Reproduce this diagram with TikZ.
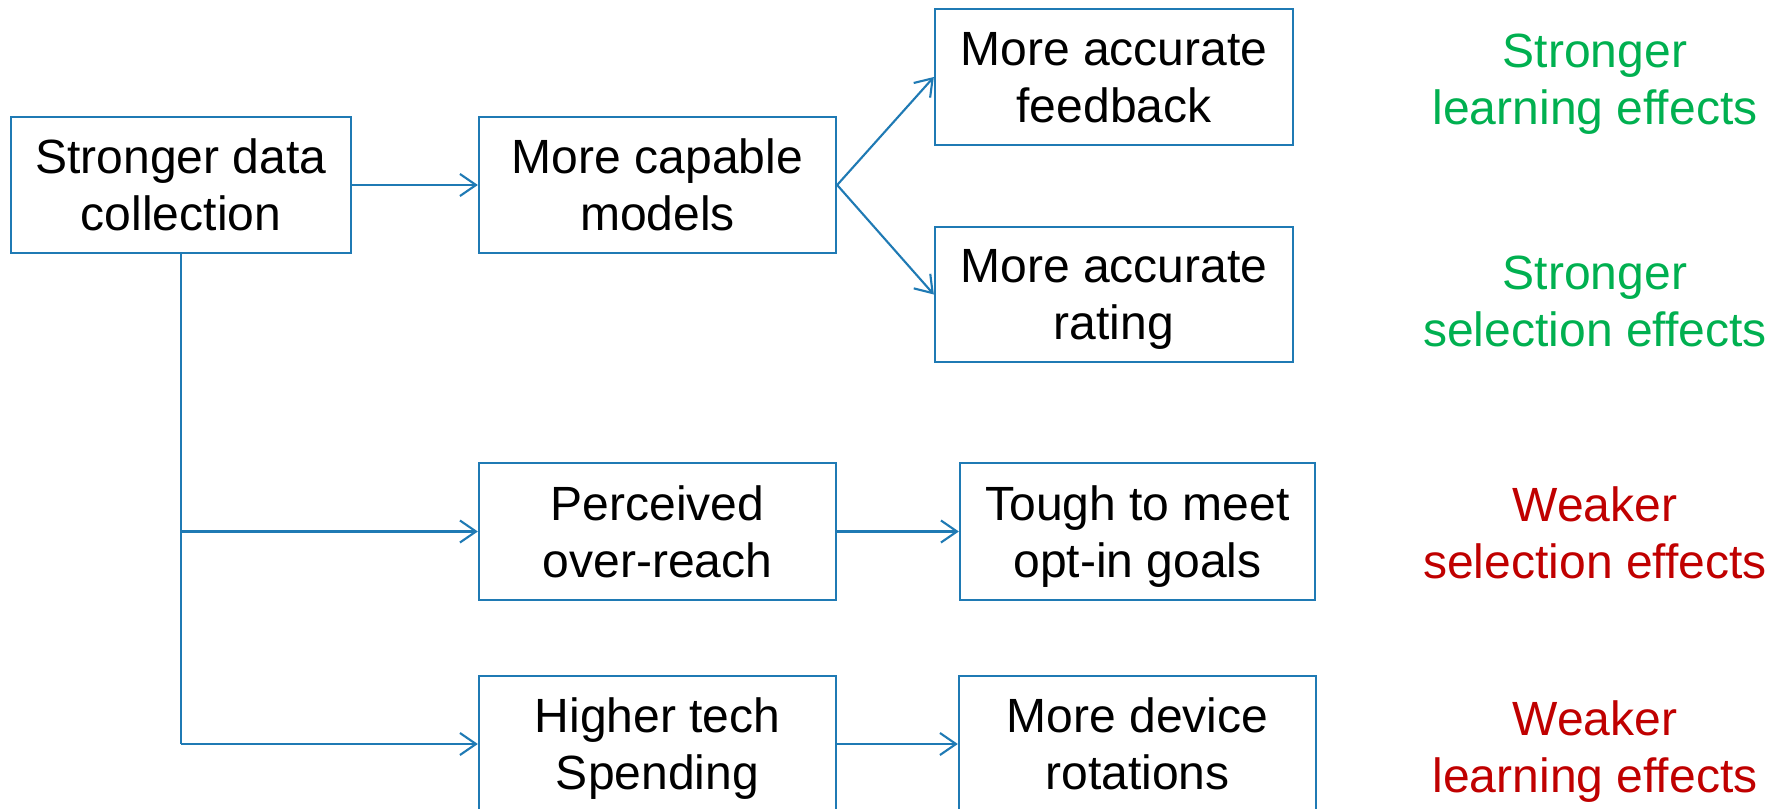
\documentclass[tikz,border=0pt]{standalone}
\usepackage{fontspec}
\setmainfont{Liberation Sans}
\usetikzlibrary{arrows.meta}
\definecolor{lineblue}{RGB}{31,122,180}
\definecolor{posgreen}{RGB}{0,176,80}
\definecolor{negred}{RGB}{192,0,0}
\tikzset{
  box/.style={draw=lineblue, line width=0.6pt, align=center, inner sep=0pt,
    minimum height=1.36cm, text=black, text depth=-0.3pt, font=\fontsize{13.66}{16.2}\selectfont},
  effect/.style={align=center, inner sep=0pt, text depth=-0.3pt, font=\fontsize{13.66}{16.2}\selectfont},
  conn/.style={draw=lineblue, line width=0.6pt},
  arr/.style={conn, -{Straight Barb[length=0.16cm,width=0.22cm,line width=0.6pt]}}
}
\begin{document}
\begin{tikzpicture}[x=0.01cm,y=-0.01cm]
\useasboundingbox (0,0) rectangle (1781,809);
\clip (0,0) rectangle (1781,809);
\fill[white] (0,0) rectangle (1781,809);
\node[box, minimum width=3.40cm] (b1) at (181,185) {Stronger data\\collection};
\node[box, minimum width=3.57cm] (b2) at (657.5,185) {More capable\\models};
\node[box, minimum width=3.58cm] (b3) at (1114,77) {More accurate\\feedback};
\node[box, minimum width=3.58cm, minimum height=1.35cm] (b4) at (1114,294.5) {More accurate\\rating};
\node[box, minimum width=3.57cm, minimum height=1.37cm] (b5) at (657.5,531.5) {Perceived\\over-reach};
\node[box, minimum width=3.55cm, minimum height=1.37cm] (b6) at (1137.5,531.5) {Tough to meet\\opt-in goals};
\node[box, minimum width=3.57cm] (b7) at (657.5,744) {Higher tech\\Spending};
\node[box, minimum width=3.57cm] (b8) at (1137.5,744) {More device\\rotations};

\node[effect, text=posgreen] (e1) at (1595,79) {Stronger\\learning effects};
\node[effect, text=posgreen] (e2) at (1595,301) {Stronger\\selection effects};
\node[effect, text=negred] (e3) at (1595,533) {Weaker\\selection effects};
\node[effect, text=negred] (e4) at (1595,747) {Weaker\\learning effects};

\coordinate (j1) at (b1.south |- b5.west);
\coordinate (j2) at (b1.south |- b7.west);
\draw[arr] (b1.east) -- (b2.west);
\draw[arr] (b2.east) -- (b3.west);
\draw[arr] (b2.east) -- (b4.west);
\draw[conn] (b1.south) -- (j2);
\draw[arr] (j1) -- (b5.west);
\draw[arr] (j2) -- (b7.west);
\draw[arr] (b5.east) -- (b6.west);
\draw[arr] (b7.east) -- (b8.west);
\end{tikzpicture}
\end{document}
